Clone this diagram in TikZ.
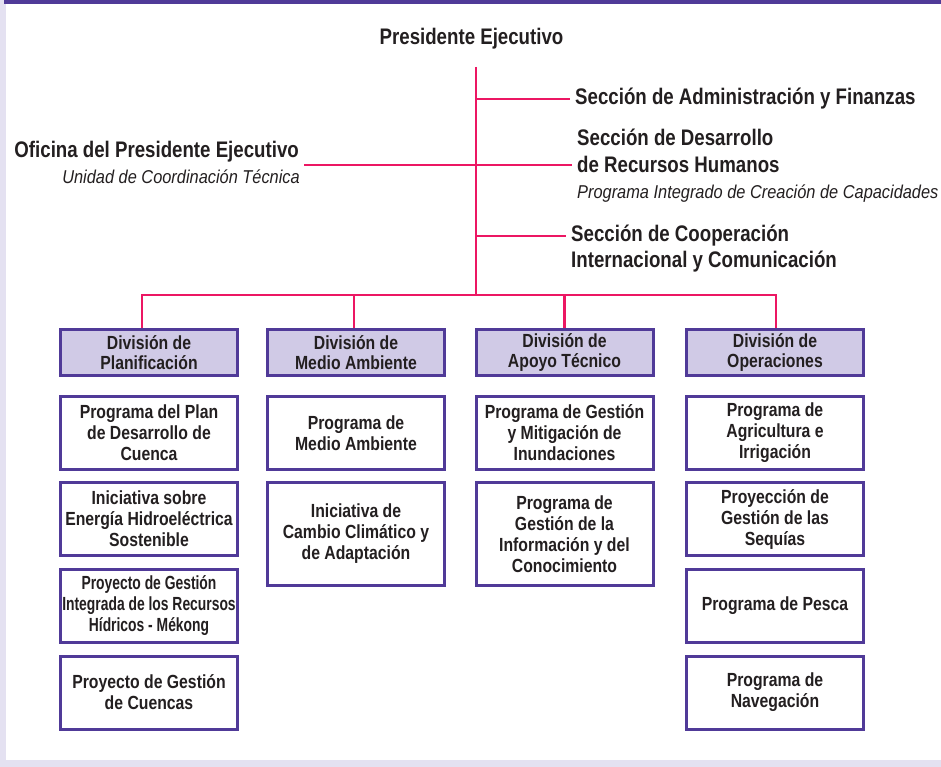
\documentclass[tikz,border=0pt]{standalone}
\usepackage{fontspec}
\newfontfamily\chudam[FakeStretch=0.83]{Liberation Sans}
\newfontfamily\chuhep[FakeStretch=0.73]{Liberation Sans}
\newfontfamily\chunghieng[FakeStretch=0.88]{Liberation Sans}
\definecolor{hong}{HTML}{EC1763}
\definecolor{tim}{HTML}{503A98}
\definecolor{timnhat}{HTML}{D0CAE6}
\definecolor{nen}{HTML}{E4E1F1}
\definecolor{chu}{HTML}{231F20}
\begin{document}
\begin{tikzpicture}[x=1pt,y=-1pt,
	ln/.style={hong,line width=2.8pt},
	phong/.style={draw=tim,line width=3pt,fill=timnhat,minimum width=177pt,minimum height=46pt,inner sep=0pt,align=center,text=chu,font=\chudam\bfseries\fontsize{19}{20}\selectfont},
	ctrinh/.style={draw=tim,line width=3pt,fill=white,minimum width=177pt,minimum height=73pt,inner sep=0pt,align=center,text=chu,font=\chudam\bfseries\fontsize{19}{21}\selectfont},
	tieude/.style={text=chu,inner ysep=0pt,inner xsep=5pt,align=left,font=\chudam\bfseries\fontsize{22.5}{26.7}\selectfont},
	phu/.style={text=chu,inner ysep=0pt,inner xsep=5pt,font=\chunghieng\itshape\fontsize{18.6}{22}\selectfont}]
			% Nền và khung
			\fill[nen] (0,0) rectangle (941,767);
			\fill[white] (6,4) rectangle (941,760);
			\fill[tim] (4,0) rectangle (941,4);
			\useasboundingbox (0,0) rectangle (941,767);
			
			% Chủ tịch và các phòng ban
			\node[tieude,anchor=base] (pe) at (471.5,44.3) {Presidente Ejecutivo};
			\node[tieude,anchor=base west] (adm) at (570,104.3) {Sección de Administración y Finanzas};
			\node[tieude,anchor=base west] (rh) at (572,172.4) {Sección de Desarrollo\\de Recursos Humanos};
			\node[phu,anchor=base west] (rhp) at (572,198.3) {Programa Integrado de Creación de Capacidades};
			\node[tieude,anchor=base west] (coop) at (566,267.7) {Sección de Cooperación\\Internacional y Comunicación};
			\node[tieude,anchor=base east] (of) at (304,157.3) {Oficina del Presidente Ejecutivo};
			\node[phu,anchor=base east] (ofp) at (305,183.3) {Unidad de Coordinación Técnica};
			
			% Trục chính và nhánh
			\coordinate (tren) at (476,67);
			\coordinate (duoi) at (476,295);
			\coordinate (r1) at (476,99);
			\coordinate (r2) at (476,165);
			\coordinate (r3) at (476,236);
			\draw[ln] (tren) -- (duoi);
			\draw[ln] (r1) -- (r1 -| adm.west);
			\draw[ln] (r2) -- (r2 -| rh.west);
			\draw[ln] (r2) -- (r2 -| of.east);
			\draw[ln] (r3) -- (r3 -| coop.west);
			
			% Các vụ
			\node[phong] (d1) at (149,352.5) {División de\\Planificación};
			\node[phong] (d2) at (356,352.5) {División de\\Medio Ambiente};
			\node[phong] (d3) at (564.5,352.5) {División de\\Apoyo Técnico};
			\node[phong] (d4) at (775,352.5) {División de\\Operaciones};
			
			\draw[ln] ([xshift=-7pt]d1.north) |- (duoi) -| ([xshift=1pt]d4.north);
			\draw[ln] ([xshift=-2pt]d2.north) -- ([xshift=-2pt]d2.north |- duoi);
			\draw[ln] (d3.north) -- (d3.north |- duoi);
			
			% Các chương trình
			\node[ctrinh] (a1) at (149,433) {Programa del Plan\\de Desarrollo de\\Cuenca};
			\node[ctrinh] (a2) at (149,519) {Iniciativa sobre\\Energía Hidroeléctrica\\Sostenible};
			\node[ctrinh,font=\chuhep\bfseries\fontsize{19}{21}\selectfont] (a3) at (149,606) {Proyecto de Gestión\\Integrada de los Recursos\\Hídricos - Mékong};
			\node[ctrinh] (a4) at (149,692.5) {Proyecto de Gestión\\de Cuencas};
			
			\node[ctrinh] (b1) at (356,433) {Programa de\\Medio Ambiente};
			\node[ctrinh,minimum height=103pt] (b2) at (356,534) {Iniciativa de\\Cambio Climático y\\de Adaptación};
			
			\node[ctrinh] (c1) at (564.5,433) {Programa de Gestión\\y Mitigación de\\Inundaciones};
			\node[ctrinh,minimum height=103pt] (c2) at (564.5,534) {Programa de\\Gestión de la\\Información y del\\Conocimiento};
			
			\node[ctrinh] (e1) at (775,433) {Programa de\\Agricultura e\\Irrigación};
			\node[ctrinh] (e2) at (775,519) {Proyección de\\Gestión de las\\Sequías};
			\node[ctrinh] (e3) at (775,606) {Programa de Pesca};
			\node[ctrinh] (e4) at (775,692.5) {Programa de\\Navegación};
	\end{tikzpicture}
\end{document}
